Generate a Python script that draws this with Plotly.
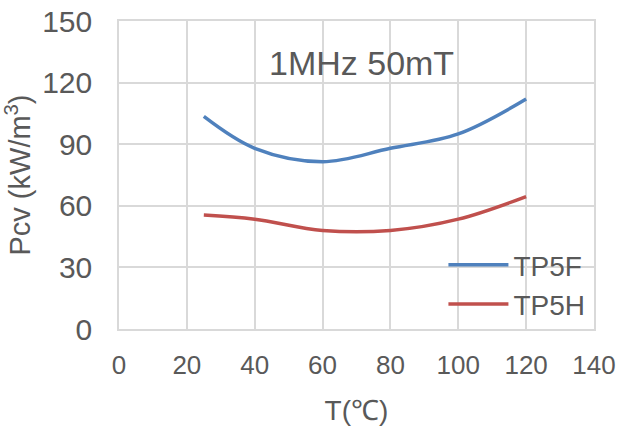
import plotly.graph_objects as go

temps = [25, 40, 60, 80, 100, 120]
tp5f = [103.5, 88, 81.5, 88, 95, 112]
tp5h = [55.5, 53.5, 48, 48, 53.5, 64.5]
x_ticks = [0, 20, 40, 60, 80, 100, 120, 140]
y_ticks = [0, 30, 60, 90, 120, 150]

FONT = "Liberation Sans, Arial, sans-serif"
TXT = "#595959"
GRID = "#D9D9D9"

fig = go.Figure()
fig.add_trace(go.Scatter(x=temps, y=tp5f, mode="lines", name="TP5F",
                         line=dict(color="#4F81BD", width=3.5, shape="spline", smoothing=1)))
fig.add_trace(go.Scatter(x=temps, y=tp5h, mode="lines", name="TP5H",
                         line=dict(color="#C0504D", width=3.5, shape="spline", smoothing=1)))

fig.update_layout(
    width=644, height=426,
    margin=dict(l=119, r=50, t=21, b=97),
    paper_bgcolor="white", plot_bgcolor="white",
    font=dict(family=FONT, color=TXT, size=28),
    showlegend=True,
    legend=dict(x=0.683, y=0.0, xanchor="left", yanchor="bottom",
                bgcolor="rgba(0,0,0,0)", font=dict(size=28, color=TXT),
                tracegroupgap=0, itemwidth=60),
    annotations=[dict(x=71.5, y=129.5, xref="x", yref="y", text="1MHz 50mT",
                      showarrow=False, font=dict(size=34, color=TXT, family=FONT))],
)
fig.update_xaxes(range=[0, 140], tickvals=x_ticks, showgrid=True, gridcolor=GRID, gridwidth=1.5,
                 showline=True, linecolor=GRID, linewidth=1.5, mirror=True, zeroline=False,
                 ticks="", tickfont=dict(size=26, color=TXT), automargin=False,
                 ticklabelstandoff=12, ticklabeloverflow="allow",
                 title=dict(text="T(℃)", font=dict(size=28, color=TXT), standoff=22))
fig.update_yaxes(range=[0, 150], tickvals=y_ticks, showgrid=True, gridcolor=GRID, gridwidth=1.5,
                 showline=True, linecolor=GRID, linewidth=1.5, mirror=True, zeroline=False,
                 ticks="", tickfont=dict(size=30, color=TXT), automargin=False,
                 ticklabelstandoff=19, ticklabeloverflow="allow",
                 title=dict(text="Pcv (kW/m<sup>3</sup>)", font=dict(size=29, color=TXT), standoff=4))

# remove the browser's default 8px body margin so the figure sits at the page corner
fig.write_html("out.html", config={"displayModeBar": False},
               post_script="document.body.style.margin='0';")
